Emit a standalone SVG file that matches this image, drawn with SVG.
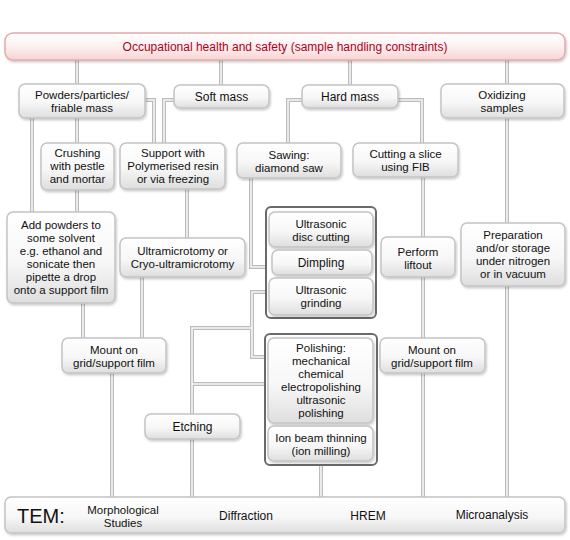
<svg xmlns="http://www.w3.org/2000/svg" xmlns:xlink="http://www.w3.org/1999/xlink" width="570" height="540" viewBox="0 0 570 540">
<defs>
<linearGradient id="gBox" x1="0" y1="0" x2="0" y2="1">
<stop offset="0" stop-color="#ffffff"/><stop offset="0.55" stop-color="#f7f7f7"/><stop offset="1" stop-color="#dedede"/>
</linearGradient>
<linearGradient id="gBan" x1="0" y1="0" x2="0" y2="1">
<stop offset="0" stop-color="#ffffff"/><stop offset="0.5" stop-color="#fdf0f0"/><stop offset="1" stop-color="#f7d4d4"/>
</linearGradient>
<filter id="sh" x="-10%" y="-10%" width="130%" height="140%">
<feDropShadow dx="1" dy="1.5" stdDeviation="1.2" flood-color="#000" flood-opacity="0.22"/>
</filter>
<path id="p1" d="M77 60V84"/>
<path id="p2" d="M221 60V85"/>
<path id="p3" d="M350 60V85"/>
<path id="p4" d="M507 60V84"/>
<path id="p5" d="M32 117V212"/>
<path id="p6" d="M77 117V143"/>
<path id="p7" d="M145 100H154V143"/>
<path id="p8" d="M174 100H164V143"/>
<path id="p9" d="M302 100H288V143"/>
<path id="p10" d="M398 100H422V143"/>
<path id="p11" d="M77 190V212"/>
<path id="p12" d="M187 189V238"/>
<path id="p13" d="M423 177V237"/>
<path id="p14" d="M507 118V223"/>
<path id="p15" d="M251 178V267H266"/>
<path id="p16" d="M266 292H252V357H265"/>
<path id="p17" d="M252 328H192V414"/>
<path id="p18" d="M265 384H192"/>
<path id="p19" d="M192 439V497"/>
<path id="p20" d="M83 303V338"/>
<path id="p21" d="M142 277V338"/>
<path id="p22" d="M112 373V497"/>
<path id="p23" d="M321 465V497"/>
<path id="p24" d="M423 277V338"/>
<path id="p25" d="M423 373V497"/>
<path id="p26" d="M507 286V497"/>
</defs>
<style>
.pipeO{fill:none;stroke:#bcbcbc;stroke-width:4}
.pipeI{fill:none;stroke:#f6f6f6;stroke-width:1.6}
.box{fill:url(#gBox);stroke:#c4c4c4;stroke-width:1.5;filter:url(#sh)}
.grp{fill:#fff;stroke:#6a6a6a;stroke-width:2}
.ban{fill:url(#gBan);stroke:#e4a9a9;stroke-width:1.5;filter:url(#sh)}
text{font-family:"Liberation Sans",Arial,sans-serif;font-size:12px;fill:#111;text-anchor:middle}
.ml{font-size:11.5px}
.red{fill:#b0001e}
.big{font-size:20px;text-anchor:start}
</style>
<rect width="570" height="540" fill="#fff"/>
<g id="connectors">
<g class="pipeO">
<use xlink:href="#p1"/><use xlink:href="#p2"/><use xlink:href="#p3"/><use xlink:href="#p4"/><use xlink:href="#p5"/><use xlink:href="#p6"/><use xlink:href="#p7"/><use xlink:href="#p8"/><use xlink:href="#p9"/><use xlink:href="#p10"/><use xlink:href="#p11"/><use xlink:href="#p12"/><use xlink:href="#p13"/><use xlink:href="#p14"/><use xlink:href="#p15"/><use xlink:href="#p16"/><use xlink:href="#p17"/><use xlink:href="#p18"/><use xlink:href="#p19"/><use xlink:href="#p20"/><use xlink:href="#p21"/><use xlink:href="#p22"/><use xlink:href="#p23"/><use xlink:href="#p24"/><use xlink:href="#p25"/><use xlink:href="#p26"/>
</g>
<g class="pipeI">
<use xlink:href="#p1"/><use xlink:href="#p2"/><use xlink:href="#p3"/><use xlink:href="#p4"/><use xlink:href="#p5"/><use xlink:href="#p6"/><use xlink:href="#p7"/><use xlink:href="#p8"/><use xlink:href="#p9"/><use xlink:href="#p10"/><use xlink:href="#p11"/><use xlink:href="#p12"/><use xlink:href="#p13"/><use xlink:href="#p14"/><use xlink:href="#p15"/><use xlink:href="#p16"/><use xlink:href="#p17"/><use xlink:href="#p18"/><use xlink:href="#p19"/><use xlink:href="#p20"/><use xlink:href="#p21"/><use xlink:href="#p22"/><use xlink:href="#p23"/><use xlink:href="#p24"/><use xlink:href="#p25"/><use xlink:href="#p26"/>
</g>
</g>
<g id="banner"><rect class="ban" x="5" y="33" width="560" height="27" rx="8"/><text class="red" x="285" y="51">Occupational health and safety (sample handling constraints)</text></g>
<g id="powders"><rect class="box" x="19" y="84" width="126" height="34" rx="6"/><text class="ml" x="82" y="98.5">Powders/particles/<tspan x="82" dy="13">friable mass</tspan></text></g>
<g id="soft"><rect class="box" x="174" y="85" width="95" height="23" rx="6"/><text x="221.5" y="100.5">Soft mass</text></g>
<g id="hard"><rect class="box" x="302" y="85" width="96" height="23" rx="6"/><text x="350" y="100.5">Hard mass</text></g>
<g id="oxidizing"><rect class="box" x="441" y="84" width="123" height="34" rx="6"/><text class="ml" x="502" y="98.5">Oxidizing<tspan x="502" dy="13">samples</tspan></text></g>
<g id="crushing"><rect class="box" x="41" y="143" width="73" height="47" rx="6"/><text class="ml" x="77.5" y="157">Crushing<tspan x="77.5" dy="13">with pestle</tspan><tspan x="77.5" dy="13">and mortar</tspan></text></g>
<g id="support"><rect class="box" x="120" y="143" width="105" height="46" rx="6"/><text class="ml" x="173" y="157">Support with<tspan x="173" dy="13">Polymerised resin</tspan><tspan x="173" dy="13">or via freezing</tspan></text></g>
<g id="sawing"><rect class="box" x="237" y="143" width="104" height="35" rx="6"/><text class="ml" x="289" y="158.5">Sawing:<tspan x="289" dy="13">diamond saw</tspan></text></g>
<g id="cutting"><rect class="box" x="353" y="143" width="105" height="34" rx="6"/><text class="ml" x="405.5" y="158.3">Cutting a slice<tspan x="405.5" dy="13">using FIB</tspan></text></g>
<g id="addpowders"><rect class="box" x="7" y="212" width="108" height="91" rx="6"/><text class="ml" x="61" y="228.5">Add powders to<tspan x="61" dy="13">some solvent</tspan><tspan x="61" dy="13">e.g. ethanol and</tspan><tspan x="61" dy="13">sonicate then</tspan><tspan x="61" dy="13">pipette a drop</tspan><tspan x="61" dy="13">onto a support film</tspan></text></g>
<g id="ultramicrotomy"><rect class="box" x="120" y="238" width="125" height="39" rx="6"/><text class="ml" x="182.5" y="255">Ultramicrotomy or<tspan x="182.5" dy="13">Cryo-ultramicrotomy</tspan></text></g>
<g id="liftout"><rect class="box" x="381" y="237" width="74" height="40" rx="6"/><text class="ml" x="418" y="255.8">Perform<tspan x="418" dy="13">liftout</tspan></text></g>
<g id="preparation"><rect class="box" x="461" y="223" width="104" height="63" rx="6"/><text class="ml" x="513" y="239">Preparation<tspan x="513" dy="13">and/or storage</tspan><tspan x="513" dy="13">under nitrogen</tspan><tspan x="513" dy="13">or in vacuum</tspan></text></g>
<g id="ultrasonic-group"><rect class="grp" x="266" y="207" width="110" height="111" rx="5"/>
<g id="disc"><rect class="box" x="269" y="212" width="104" height="35" rx="6"/><text class="ml" x="321" y="227.5">Ultrasonic<tspan x="321" dy="13">disc cutting</tspan></text></g>
<g id="dimpling"><rect class="box" x="272" y="250" width="100" height="25" rx="6"/><text x="321" y="267">Dimpling</text></g>
<g id="grinding"><rect class="box" x="269" y="278" width="104" height="37" rx="6"/><text class="ml" x="321" y="293.5">Ultrasonic<tspan x="321" dy="13">grinding</tspan></text></g>
</g>
<g id="mount-left"><rect class="box" x="62" y="338" width="104" height="35" rx="6"/><text class="ml" x="114" y="353.7">Mount on<tspan x="114" dy="13">grid/support film</tspan></text></g>
<g id="mount-right"><rect class="box" x="380" y="338" width="105" height="35" rx="6"/><text class="ml" x="432" y="353.7">Mount on<tspan x="432" dy="13">grid/support film</tspan></text></g>
<g id="polishing-group"><rect class="grp" x="265" y="334" width="112" height="131" rx="5"/>
<g id="polishing"><rect class="box" x="268" y="338" width="105" height="85" rx="6"/><text class="ml" x="321" y="351.5">Polishing:<tspan x="321" dy="13">mechanical</tspan><tspan x="321" dy="13">chemical</tspan><tspan x="321" dy="13">electropolishing</tspan><tspan x="321" dy="13">ultrasonic</tspan><tspan x="321" dy="13">polishing</tspan></text></g>
<g id="ionbeam"><rect class="box" x="268" y="426" width="105" height="35" rx="6"/><text class="ml" x="321" y="441.5">Ion beam thinning<tspan x="321" dy="13">(ion milling)</tspan></text></g>
</g>
<g id="etching"><rect class="box" x="145" y="414" width="95" height="25" rx="6"/><text x="192.5" y="431">Etching</text></g>
<g id="tem"><rect class="box" x="5" y="497" width="560" height="36" rx="6"/>
<text class="big" x="17" y="523">TEM:</text>
<text class="ml" x="123" y="514">Morphological<tspan x="123" dy="13">Studies</tspan></text>
<text x="246" y="520">Diffraction</text>
<text x="368" y="520">HREM</text>
<text x="492" y="519">Microanalysis</text>
</g>
</svg>
